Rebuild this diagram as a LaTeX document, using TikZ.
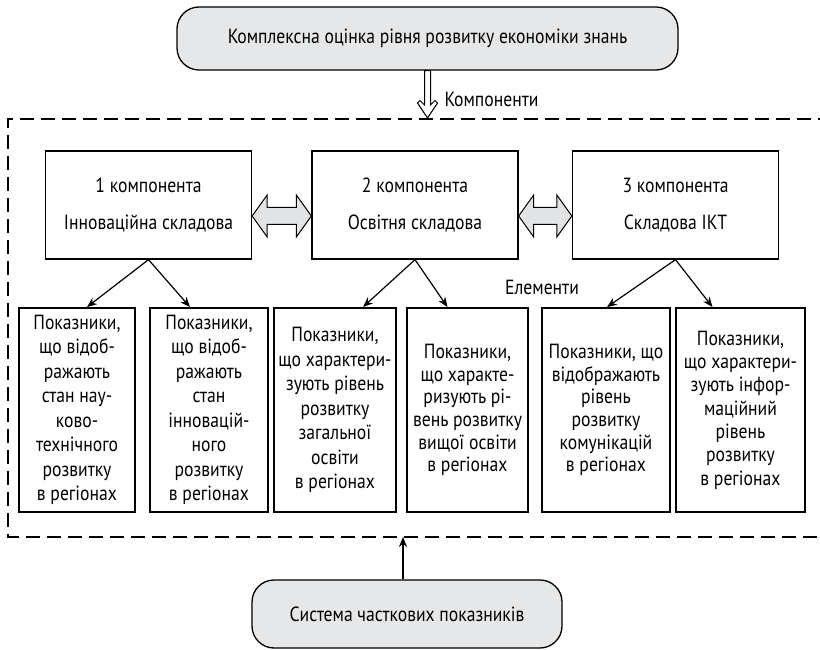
\documentclass[tikz,border=0pt]{standalone}
\usepackage{fontspec}
\setmainfont{PT Sans}[FakeStretch=0.86]
\usetikzlibrary{arrows.meta,calc}
\definecolor{pillgray}{RGB}{230,231,232}
\definecolor{arrgray}{RGB}{226,227,228}
\begin{document}
\begin{tikzpicture}[x=1pt,y=-1pt,
  txt/.style={font=\fontsize{20.5}{24}\selectfont},
  pill/.style={txt, draw, line width=1.3pt, fill=pillgray, rounded corners=22pt, inner sep=0pt},
  comp/.style={txt, draw, line width=1.3pt, minimum width=206pt, minimum height=108pt, align=center, inner sep=0pt},
  elem/.style={txt, draw, line width=1.9pt, minimum height=204pt, align=center, inner sep=0pt,
    font=\fontsize{20.5}{24.5}\selectfont},
  conn/.style={line width=1.2pt, -{Stealth[length=10pt,width=8pt]}},
  blockarrow/.style={draw, line width=1pt, fill=arrgray, line join=miter},
  hollowarrow/.style={draw, line width=1pt, fill=white, line join=miter},
  frame/.style={dashed, dash pattern=on 14pt off 7pt, line width=1.3pt}
]
\useasboundingbox (0,0) rectangle (820,650);
% dashed frame
\draw[frame] (832,119) -- (8,119) -- (8,537) -- (832,537);
\coordinate (ftop) at (427.5,118);
\coordinate (fbot) at (403,537);

% pills
\node[pill, minimum width=501pt, minimum height=63pt] (top) at (427.5,38.5)
  {Комплексна оцінка рівня розвитку економіки знань};
\node[pill, minimum width=310pt, minimum height=68pt] (bot) at (407,614)
  {Система часткових показників};

% top hollow double arrow
\draw[hollowarrow] (ftop) -- ++(-10,-15) -- ++(2.5,-2.5) -- ++(4.5,4.5)
  -- ($(top.south)+(-3,0)$) -- ($(top.south)+(3,0)$) -- ($(ftop)+(3,-13)$)
  -- ++(4.5,-4.5) -- ++(2.5,2.5) -- cycle;
\node[txt, anchor=west] (komp) at (441,99) {Компоненти};

% bottom arrow
\draw[conn] (bot.north -| fbot) -- (fbot);

% component boxes
\node[comp] (c1) at (148.5,205) {1 компонента\\[13pt]Інноваційна складова};
\node[comp] (c2) at (415,205) {2 компонента\\[13pt]Освітня складова};
\node[comp] (c3) at (675.5,205) {3 компонента\\[13pt]Складова ІКТ};

% block double arrows
\draw[blockarrow] ([yshift=-11]c1.east) -- ++(15,-21) -- ++(0,12.5) -- ($([yshift=-11]c2.west)+(-15,-8.5)$)
  -- ++(0,-12.5) -- ([yshift=-11]c2.west) -- ++(-15,21) -- ++(0,-12.5) -- ($([yshift=-11]c1.east)+(15,8.5)$) -- ++(0,12.5) -- cycle;
\draw[blockarrow] ([yshift=-11]c2.east) -- ++(15,-21) -- ++(0,12.5) -- ($([yshift=-11]c3.west)+(-15,-8.5)$)
  -- ++(0,-12.5) -- ([yshift=-11]c3.west) -- ++(-15,21) -- ++(0,-12.5) -- ($([yshift=-11]c2.east)+(15,8.5)$) -- ++(0,12.5) -- cycle;

% element boxes
\node[elem, minimum width=116pt] (ea) at (77,410)
  {Показники,\\що відоб-\\ражають\\стан нау-\\ково-\\технічного\\розвитку\\в регіонах};
\node[elem, minimum width=118pt] (eb) at (209,410)
  {Показники,\\що відоб-\\ражають\\стан\\інновацій-\\ного\\розвитку\\в регіонах};
\node[elem, minimum width=122pt] (ec) at (335,410)
  {Показники,\\що характери-\\зують рівень\\розвитку\\загальної\\освіти\\в регіонах};
\node[elem, minimum width=121pt, font=\fontsize{20.5}{22.6}\selectfont] (ed) at (467.5,410)
  {Показники,\\що характе-\\ризують рі-\\вень розвитку\\вищої освіти\\в регіонах};
\node[elem, minimum width=128pt, font=\fontsize{20.5}{22.6}\selectfont] (ee) at (606,410)
  {Показники, що\\відображають\\рівень\\розвитку\\комунікацій\\в регіонах};
\node[elem, minimum width=129pt, font=\fontsize{20.5}{23.3}\selectfont] (ef) at (740.5,410)
  {Показники,\\що характери-\\зують інфор-\\маційний\\рівень\\розвитку\\в регіонах};

\node[txt] (elems) at (542,287) {Елементи};

% connectors
\draw[conn] (c1.south) -- ([xshift=10pt]ea.north);
\draw[conn] (c1.south) -- ([xshift=-19pt]eb.north);
\draw[conn] (c2.south) -- ([xshift=28pt]ec.north);
\draw[conn] (c2.south) -- ([xshift=-20pt]ed.north);
\draw[conn] (c3.south) -- ([xshift=1pt]ee.north);
\draw[conn] (c3.south) -- ([xshift=-28pt]ef.north);
\end{tikzpicture}
\end{document}
